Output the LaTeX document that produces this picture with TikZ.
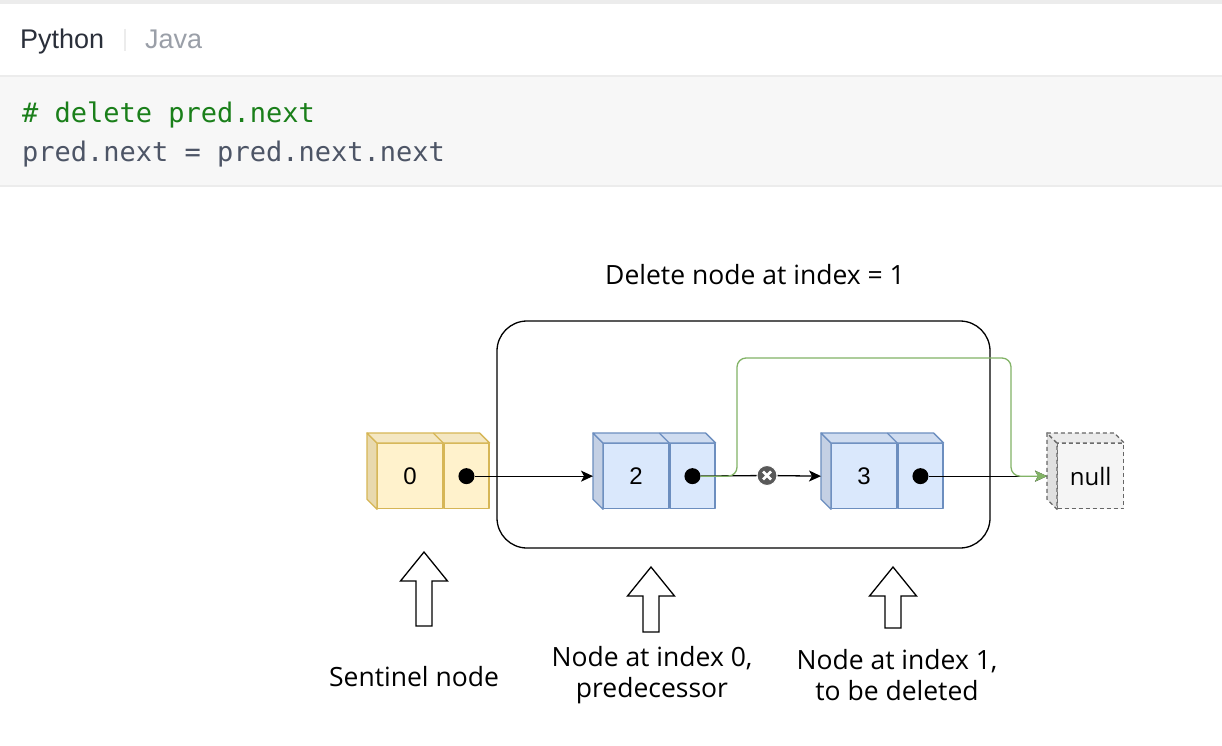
\documentclass[tikz,border=0pt]{standalone}
\usepackage{fontspec}
\usepackage{xcolor}
\usepackage{tikz}
\usetikzlibrary{positioning, arrows.meta}

\newfontfamily\uifont{Liberation Sans}
\newfontfamily\codefont{DejaVu Sans Mono}
\newfontfamily\handfont{Open Sans}

\definecolor{yelfill}{HTML}{FFF2CC}
\definecolor{yelline}{HTML}{D6B656}
\definecolor{yelside}{HTML}{E8D9AE}
\definecolor{yeltop}{HTML}{F4E7C2}
\definecolor{blufill}{HTML}{DAE8FC}
\definecolor{bluline}{HTML}{6C8EBF}
\definecolor{bluside}{HTML}{C4D0E4}
\definecolor{blutop}{HTML}{CFDCF0}
\definecolor{nullfill}{HTML}{F5F5F5}
\definecolor{nullline}{HTML}{666666}
\definecolor{nullside}{HTML}{E0E0E0}
\definecolor{nulltop}{HTML}{EBEBEB}
\definecolor{nextgreen}{HTML}{82B366}
\definecolor{codebg}{HTML}{F7F7F7}
\definecolor{codeedge}{HTML}{ECECEC}
\definecolor{codegreen}{HTML}{1A7F1A}
\definecolor{codegray}{HTML}{4D5566}
\definecolor{tabdark}{HTML}{2A2F3A}
\definecolor{tabgray}{HTML}{9A9FA8}

\begin{document}
\begin{tikzpicture}[x=1pt, y=-1pt, line join=round,
    cell/.style={draw, line width=1.3pt, inner sep=0pt, minimum height=65pt,
      font=\uifont\fontsize{24}{28}\selectfont},
    valcell/.style={cell, minimum width=65pt},
    ptrcell/.style={cell, minimum width=45pt},
    yelbox/.style={fill=yelfill, draw=yelline},
    blubox/.style={fill=blufill, draw=bluline},
    dot/.style={circle, fill=black, inner sep=0pt, minimum size=16pt},
    link/.style={line width=1.3pt, -{Stealth[length=12pt, width=11pt, inset=3pt]}},
    greenlink/.style={link, draw=nextgreen, rounded corners=9pt},
    xmark/.style={circle, draw=white, line width=1pt, fill=black!65,
      inner sep=0pt, minimum size=20pt},
    hollow/.style={draw, line width=1.3pt, fill=white, line join=miter},
    hand/.style={font=\handfont\fontsize{26.5}{31}\selectfont},
    code/.style={anchor=base west, inner sep=0pt, font=\codefont\fontsize{27}{30}\selectfont},
    tab/.style={anchor=base west, inner sep=0pt, font=\uifont\fontsize{27}{30}\selectfont}]

  \fill[white] (0,0) rectangle (1222,746);
  \useasboundingbox (0,0) rectangle (1222,746);

  % tab bar and code
  \fill[codeedge] (0,0) rectangle (1222,4);
  \fill[codebg] (0,76) rectangle (1222,186);
  \draw[codeedge, line width=1.5pt] (0,76) -- (1222,76) (0,186) -- (1222,186);
  \node[tab, text=tabdark] (tpy) at (20,49) {Python};
  \draw[codeedge, line width=1.5pt] (125,29) -- (125,51);
  \node[tab, text=tabgray] (tjava) at (145,49) {Java};
  \node[code, text=codegreen] (c1) at (22,123) {\# delete pred.next};
  \node[code, text=codegray] (c2) at (22,161) {pred.next = pred.next.next};

  % group box
  \node[draw, line width=1.3pt, rounded corners=30pt, minimum width=493pt,
    minimum height=227pt] (grp) at (743.5,434.5) {};
  \node[hand, anchor=base] (title) at (755,284) {Delete node at index = 1};

  % list nodes
  \node[valcell, yelbox, anchor=north west] (v0) at (377,443) {0};
  \node[ptrcell, yelbox, right=0pt of v0] (p0) {};
  \node[valcell, blubox, anchor=north west] (v2) at (603,443) {2};
  \node[ptrcell, blubox, right=0pt of v2] (p2) {};
  \node[valcell, blubox, anchor=north west] (v3) at (831,443) {3};
  \node[ptrcell, blubox, right=0pt of v3] (p3) {};
  \node[cell, fill=nullfill, draw=nullline, dash pattern=on 4pt off 3pt,
    minimum width=66pt, anchor=north west, font=\handfont\fontsize{24}{28}\selectfont] (nl) at (1057,443) {null};

  \foreach \v/\p/\col in {v0/p0/yel, v2/p2/blu, v3/p3/blu} {
    \filldraw[fill=\col side, draw=\col line, line width=1.3pt]
      (\v.north west) -- ++(-10,-10) -- ([shift={(-10,-10)}]\v.south west) -- (\v.south west) -- cycle;
    \filldraw[fill=\col top, draw=\col line, line width=1.3pt]
      (\v.north west) -- ++(-10,-10) -- ([shift={(-10,-10)}]\p.north east) -- (\p.north east) -- cycle;
    \draw[\col line, line width=1.3pt] (\v.north east) -- ++(-10,-10);
  }
  \filldraw[fill=nullside, draw=nullline, line width=1.3pt, dash pattern=on 4pt off 3pt]
    (nl.north west) -- ++(-10,-10) -- ([shift={(-10,-10)}]nl.south west) -- (nl.south west) -- cycle;
  \filldraw[fill=nulltop, draw=nullline, line width=1.3pt, dash pattern=on 4pt off 3pt]
    (nl.north west) -- ++(-10,-10) -- ([shift={(-10,-10)}]nl.north east) -- (nl.north east) -- cycle;

  \node[dot] (d0) at (p0.center) {};
  \node[dot] (d2) at (p2.center) {};
  \node[dot] (d3) at (p3.center) {};

  \coordinate (in2) at ([xshift=-10pt]v2.west);
  \coordinate (in3) at ([xshift=-10pt]v3.west);
  \coordinate (in4) at ([xshift=-10pt]nl.west);
  \coordinate (gup) at (737,358);
  \coordinate (gdn) at (1011,358);
  \node[xmark] (xm) at (767,475.5) {};
  \draw[white, line width=2.6pt] ([shift={(-4,-4)}]xm.center) -- ([shift={(4,4)}]xm.center)
    ([shift={(-4,4)}]xm.center) -- ([shift={(4,-4)}]xm.center);

  % links
  \draw[link] (d0) -- (in2);
  \draw[line width=1.3pt] (d2) -- (xm);
  \draw[link] (xm) -- (in3);
  \draw[link] (d3) -- (in4);
  \draw[greenlink] (d2.east) -| (gup) -- (gdn) |- (in4);

  % pointer arrows
  \foreach \ax/\ay/\ab in {424/552/626, 651/567/632, 893/567/628}
    \draw[hollow] (\ax,\ay) -- (\ax+23.5,\ay+29) -- (\ax+8,\ay+29) -- (\ax+8,\ab)
      -- (\ax-8,\ab) -- (\ax-8,\ay+29) -- (\ax-23.5,\ay+29) -- cycle;

  \node[hand, anchor=base] (lsent) at (414,686) {Sentinel node};
  \node[hand, align=center] (lpred) at (652,675) {Node at index 0,\\predecessor};
  \node[hand, align=center] (ldel) at (897,675) {Node at index 1,\\to be deleted};
\end{tikzpicture}
\end{document}
